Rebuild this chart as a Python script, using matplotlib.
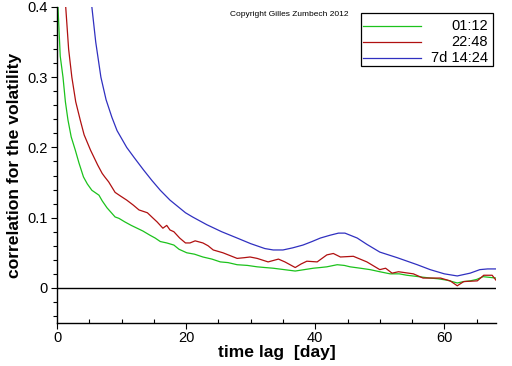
import matplotlib
matplotlib.use("Agg")
import matplotlib.pyplot as plt
from matplotlib.patches import Rectangle
from matplotlib.ticker import MultipleLocator, FixedLocator

plt.rcParams["font.family"] = ["Liberation Sans", "DejaVu Sans"]

# series: time lag [day] -> correlation
green_x = [0.05, 0.15, 0.5, 0.93, 1.3, 1.7, 2.2, 2.84, 3.4, 4.1, 4.7, 5.4, 6.5, 7.0,
           7.75, 9.0, 9.6, 10.5, 11.5, 12.4, 13.3, 14.4, 15.2, 16.0, 17.0, 18.1, 18.9,
           20.1, 21.3, 22.6, 24.0, 25.3, 26.5, 27.9, 29.5, 31.0, 32.2, 33.5, 35.2, 36.9,
           38.3, 39.7, 40.8, 41.8, 43.4, 44.5, 45.4, 47.0, 48.5, 50.0, 51.6, 53.0, 54.2,
           56.0, 57.8, 59.0, 60.4, 61.2, 62.0, 63.0, 64.0, 65.0, 66.0, 67.0, 68.0]
green_y = [0.55, 0.40, 0.33, 0.30, 0.265, 0.239, 0.215, 0.196, 0.178, 0.158, 0.148,
           0.139, 0.132, 0.124, 0.114, 0.101, 0.099, 0.094, 0.089, 0.085, 0.081, 0.075,
           0.071, 0.066, 0.064, 0.061, 0.055, 0.050, 0.048, 0.044, 0.041, 0.037, 0.036,
           0.033, 0.032, 0.030, 0.029, 0.028, 0.026, 0.024, 0.026, 0.028, 0.029, 0.030,
           0.033, 0.032, 0.030, 0.028, 0.026, 0.023, 0.020, 0.020, 0.018, 0.016, 0.014,
           0.013, 0.011, 0.009, 0.007, 0.009, 0.010, 0.012, 0.016, 0.015, 0.014]

red_x = [1.0, 1.35, 1.8, 2.3, 2.9, 3.6, 4.2, 5.2, 6.3, 7.0, 7.4, 8.0, 9.0,
         9.8, 10.8, 11.8, 12.7, 14.0, 14.8, 15.5, 16.4, 17.0, 17.5, 18.1, 19.0, 19.9,
         20.6, 21.4, 22.6, 23.4, 24.2, 25.7, 27.9, 29.0, 29.9, 31.0, 32.7, 34.3, 35.3,
         36.9, 37.8, 38.7, 40.3, 41.8, 42.8, 43.9, 45.9, 48.0, 50.0, 50.9, 51.9, 52.9,
         55.2, 56.7, 59.4, 60.9, 62.0, 63.0, 65.1, 66.1, 67.4, 68.0]
red_y = [0.55, 0.40, 0.34, 0.30, 0.265, 0.239, 0.218, 0.196, 0.175, 0.163,
         0.158, 0.151, 0.136, 0.131, 0.125, 0.118, 0.111, 0.107, 0.100, 0.094, 0.085,
         0.089, 0.0825, 0.080, 0.071, 0.064, 0.064, 0.067, 0.064, 0.060, 0.054, 0.050,
         0.042, 0.043, 0.044, 0.042, 0.037, 0.041, 0.037, 0.029, 0.034, 0.038, 0.037,
         0.047, 0.049, 0.044, 0.045, 0.037, 0.026, 0.028, 0.021, 0.023, 0.020, 0.014,
         0.014, 0.010, 0.003, 0.009, 0.010, 0.018, 0.018, 0.011]

blue_x = [4.5, 5.4, 6.0, 6.8, 7.6, 8.5, 9.3, 10.8, 12.0, 13.4, 14.7, 16.0, 17.5, 19.9,
          21.0, 23.2, 25.5, 27.9, 30.0, 32.2, 33.5, 35.0, 36.5, 38.1, 39.5, 40.8, 42.3,
          43.6, 44.6, 46.5, 48.0, 50.0, 52.7, 55.8, 57.8, 60.0, 62.0, 64.0, 65.5, 66.7,
          68.0]
blue_y = [0.52, 0.40, 0.35, 0.30, 0.268, 0.243, 0.224, 0.200, 0.185, 0.168, 0.153, 0.139,
          0.125, 0.107, 0.101, 0.090, 0.080, 0.071, 0.063, 0.056, 0.054, 0.054, 0.057,
          0.061, 0.066, 0.071, 0.075, 0.078, 0.078, 0.071, 0.062, 0.051, 0.043, 0.033,
          0.026, 0.020, 0.017, 0.021, 0.026, 0.027, 0.027]

labels = ["01:12", "22:48", "7d 14:24"]
colors = ["#1cc21c", "#b01010", "#3030c0"]
yticks = [0, 0.1, 0.2, 0.3, 0.4]
yticklabels = ["0", "0.1", "0.2", "0.3", "0.4"]

fig = plt.figure(figsize=(5.12, 3.66), dpi=100)
ax = fig.add_axes([57 / 512, 43 / 366, 439 / 512, 316 / 366])

series = [(green_x, green_y), (red_x, red_y), (blue_x, blue_y)]
for (xs, ys), c in zip(series, colors):
    ax.plot(xs, ys, color=c, lw=0.9)

ax.axhline(0, color="black", lw=1.0)

ax.set_xlim(0, 68)
ax.set_ylim(-0.05, 0.4)
ax.minorticks_on()
ax.xaxis.set_major_locator(MultipleLocator(20))
ax.xaxis.set_minor_locator(MultipleLocator(5))
ax.yaxis.set_major_locator(FixedLocator(yticks))
ax.yaxis.set_minor_locator(MultipleLocator(0.02))
ax.set_yticklabels(yticklabels)

for s in ["top", "right"]:
    ax.spines[s].set_visible(False)
for s in ["left", "bottom"]:
    ax.spines[s].set_linewidth(1.0)

ax.tick_params(axis="x", which="major", direction="out", length=4.5, width=0.8,
               labelsize=10.5, pad=1.5)
ax.tick_params(axis="x", which="minor", direction="in", length=3, width=0.8)
ax.tick_params(axis="y", which="major", direction="out", length=4.5, width=0.8,
               labelsize=10.5, pad=2)
ax.tick_params(axis="y", which="minor", direction="out", length=3, width=0.8)

ax.set_xlabel("time lag  [day]", fontsize=12.6, fontweight="bold", labelpad=0)
ax.set_ylabel("correlation for the volatility", fontsize=12.6, fontweight="bold",
              labelpad=4)

# legend box, labels right-aligned like the original
ax.add_patch(Rectangle((0.6925, 0.813), 0.3005, 0.168, transform=ax.transAxes,
                       facecolor="white", edgecolor="black", lw=0.9, zorder=5))
rows_y = [0.940, 0.889, 0.838]
for lab, c, yy in zip(labels, colors, rows_y):
    ax.plot([0.697, 0.829], [yy, yy], transform=ax.transAxes, color=c, lw=0.9,
            zorder=6)
    ax.text(0.982, yy, lab, transform=ax.transAxes, ha="right", va="center",
            fontsize=10.5, zorder=6)

fig.text(230 / 512, 1 - 15 / 366, "Copyright Gilles Zumbech 2012", fontsize=6,
         va="center", ha="left")

fig.savefig("out.png", dpi=100)
